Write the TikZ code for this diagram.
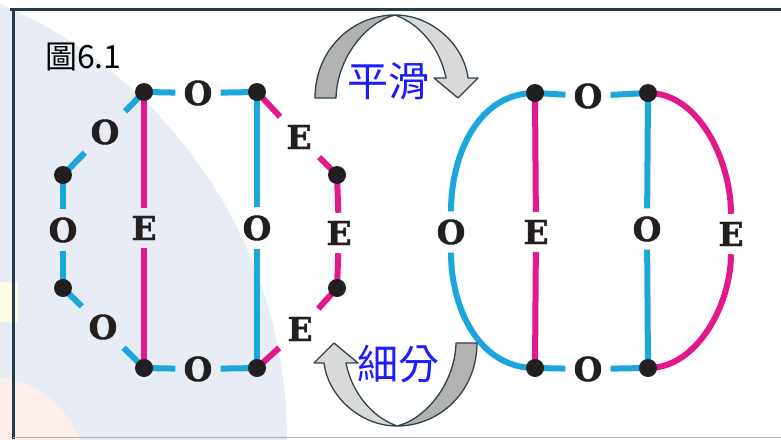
\documentclass[tikz,border=0pt]{standalone}
\usepackage{fontspec}
\newfontfamily\cjk{Noto Sans CJK TC}
\newfontfamily\lblfont{DejaVu Serif}[BoldFeatures={FakeBold=1.2}]
\definecolor{cyanline}{RGB}{27,166,222}
\definecolor{magline}{RGB}{226,24,140}
\definecolor{dotcol}{RGB}{35,31,32}
\definecolor{labeltext}{RGB}{35,31,32}
\definecolor{arrdark}{RGB}{178,178,178}
\definecolor{arrlight}{RGB}{217,217,217}
\definecolor{arrline}{RGB}{46,66,76}
\definecolor{zhblue}{RGB}{28,28,255}
\definecolor{wm}{RGB}{232,237,245}
\definecolor{framecol}{RGB}{38,60,75}
\definecolor{botline}{RGB}{170,180,190}
\definecolor{peach}{RGB}{253,240,234}
\definecolor{ylw}{RGB}{252,251,232}
\begin{document}
\begin{tikzpicture}[x=1pt,y=-1pt,
  lbl/.style={inner sep=8pt, font=\lblfont\bfseries\fontsize{33}{33}\selectfont, text=labeltext},
  bl/.style={draw=cyanline, line width=6pt},
  mg/.style={draw=magline, line width=6pt},
  vdot/.style={circle, fill=dotcol, inner sep=0pt, minimum size=18pt},
  arrowdark/.style={fill=arrdark, draw=arrline, line width=1.3pt, line join=round},
  arrowlight/.style={fill=arrlight, draw=arrline, line width=1.3pt, line join=round},
  zh/.style={font=\cjk\fontsize{41}{41}\selectfont, text=zhblue, inner sep=0pt}
]
\useasboundingbox (0,0) rectangle (781,439);
\fill[white] (0,0) rectangle (781,439);
% faint watermark background
\begin{scope}
  \clip (0,0) rectangle (781,439);
  \fill[wm] (-188,440) circle[radius=475];
  \fill[peach] (-10,472) circle[radius=95];
  \fill[ylw] (0,282) rectangle (18,322);
\end{scope}
% frame
\draw[framecol, line width=3pt] (10,9.5) -- (781,9.5);
\draw[framecol, line width=3pt] (13,8) -- (13,439);
\draw[botline, line width=1.5pt] (13,437.5) -- (781,437.5);
% title
\node[anchor=base west, font=\cjk\fontsize{32}{32}\selectfont, inner sep=0pt, text=black] (fig) at (45,68) {圖6.1};

% ---------- left graph ----------
\coordinate (A) at (144,92);
\coordinate (B) at (257,92);
\coordinate (C) at (63,175);
\coordinate (D) at (63,288);
\coordinate (F) at (144,368);
\coordinate (G) at (257,368);
\coordinate (H) at (337,175);
\coordinate (I) at (337,288);
\node[lbl] (oAB) at (198,93) {O};
\node[lbl] (oAC) at (105,132) {O};
\node[lbl] (oCD) at (63,230) {O};
\node[lbl] (oDF) at (103,327) {O};
\node[lbl] (oFG) at (198,369) {O};
\node[lbl] (eAF) at (144,228) {E};
\node[lbl] (oBG) at (257,228) {O};
\node[lbl] (eBH) at (299,137) {E};
\node[lbl] (eHI) at (339,233) {E};
\node[lbl] (eIG) at (300,329) {E};
\draw[bl] (A) -- (oAB); \draw[bl] (oAB) -- (B);
\draw[bl] (A) -- (oAC); \draw[bl] (oAC) -- (C);
\draw[bl] (C) -- (oCD); \draw[bl] (oCD) -- (D);
\draw[bl] (D) -- (oDF); \draw[bl] (oDF) -- (F);
\draw[bl] (F) -- (oFG); \draw[bl] (oFG) -- (G);
\draw[mg] (A) -- (eAF); \draw[mg] (eAF) -- (F);
\draw[bl] (B) -- (oBG); \draw[bl] (oBG) -- (G);
\draw[mg] (B) -- (eBH); \draw[mg] (eBH) -- (H);
\draw[mg] (H) -- (eHI); \draw[mg] (eHI) -- (I);
\draw[mg] (I) -- (eIG); \draw[mg] (eIG) -- (G);
\foreach \v in {A,B,C,D,F,G,H,I} \node[vdot] (d\v) at (\v) {};

% ---------- right graph ----------
\coordinate (TL) at (535,93);
\coordinate (TR) at (648,93);
\coordinate (BL) at (535,368);
\coordinate (BR) at (648,368);
\node[lbl] (oT) at (588,96) {O};
\node[lbl] (oB) at (588,369) {O};
\node[lbl] (oL) at (451,232) {O};
\node[lbl] (eV) at (536,232) {E};
\node[lbl] (oV) at (647,229) {O};
\node[lbl] (eR) at (731,234) {E};
\draw[bl] (TL) -- (oT); \draw[bl] (oT) -- (TR);
\draw[bl] (BL) -- (oB); \draw[bl] (oB) -- (BR);
\draw[mg] (TL) -- (eV); \draw[mg] (eV) -- (BL);
\draw[bl] (TR) -- (oV); \draw[bl] (oV) -- (BR);
\draw[bl] (TL) to[out=180,in=90] (oL);
\draw[bl] (oL) to[out=270,in=180] (BL);
\draw[mg] (TR) to[out=0,in=90,looseness=0.9] (eR);
\draw[mg] (eR) to[out=270,in=0,looseness=0.9] (BR);
\foreach \v in {TL,TR,BL,BR} \node[vdot] (d\v) at (\v) {};

% ---------- curved arrows ----------
\path[arrowdark] (315,98) .. controls (315,50) and (352,15) .. (395,15)
  .. controls (366,22) and (337,58) .. (336,98) -- cycle;
\path[arrowlight] (395,15) .. controls (432,15) and (464,45) .. (468,78)
  -- (478,78) -- (458,98) -- (434,78) -- (446,78)
  .. controls (440,48) and (420,24) .. (395,15) -- cycle;
\begin{scope}[rotate around={180:(396,220.5)}]
\path[arrowdark] (315,98) .. controls (315,50) and (352,15) .. (395,15)
  .. controls (366,22) and (337,58) .. (336,98) -- cycle;
\path[arrowlight] (395,15) .. controls (432,15) and (464,45) .. (468,78)
  -- (478,78) -- (458,98) -- (434,78) -- (446,78)
  .. controls (440,48) and (420,24) .. (395,15) -- cycle;
\end{scope}
\node[zh] (smooth) at (388,81) {平滑};
\node[zh] (subdiv) at (398,364) {細分};
\end{tikzpicture}
\end{document}
